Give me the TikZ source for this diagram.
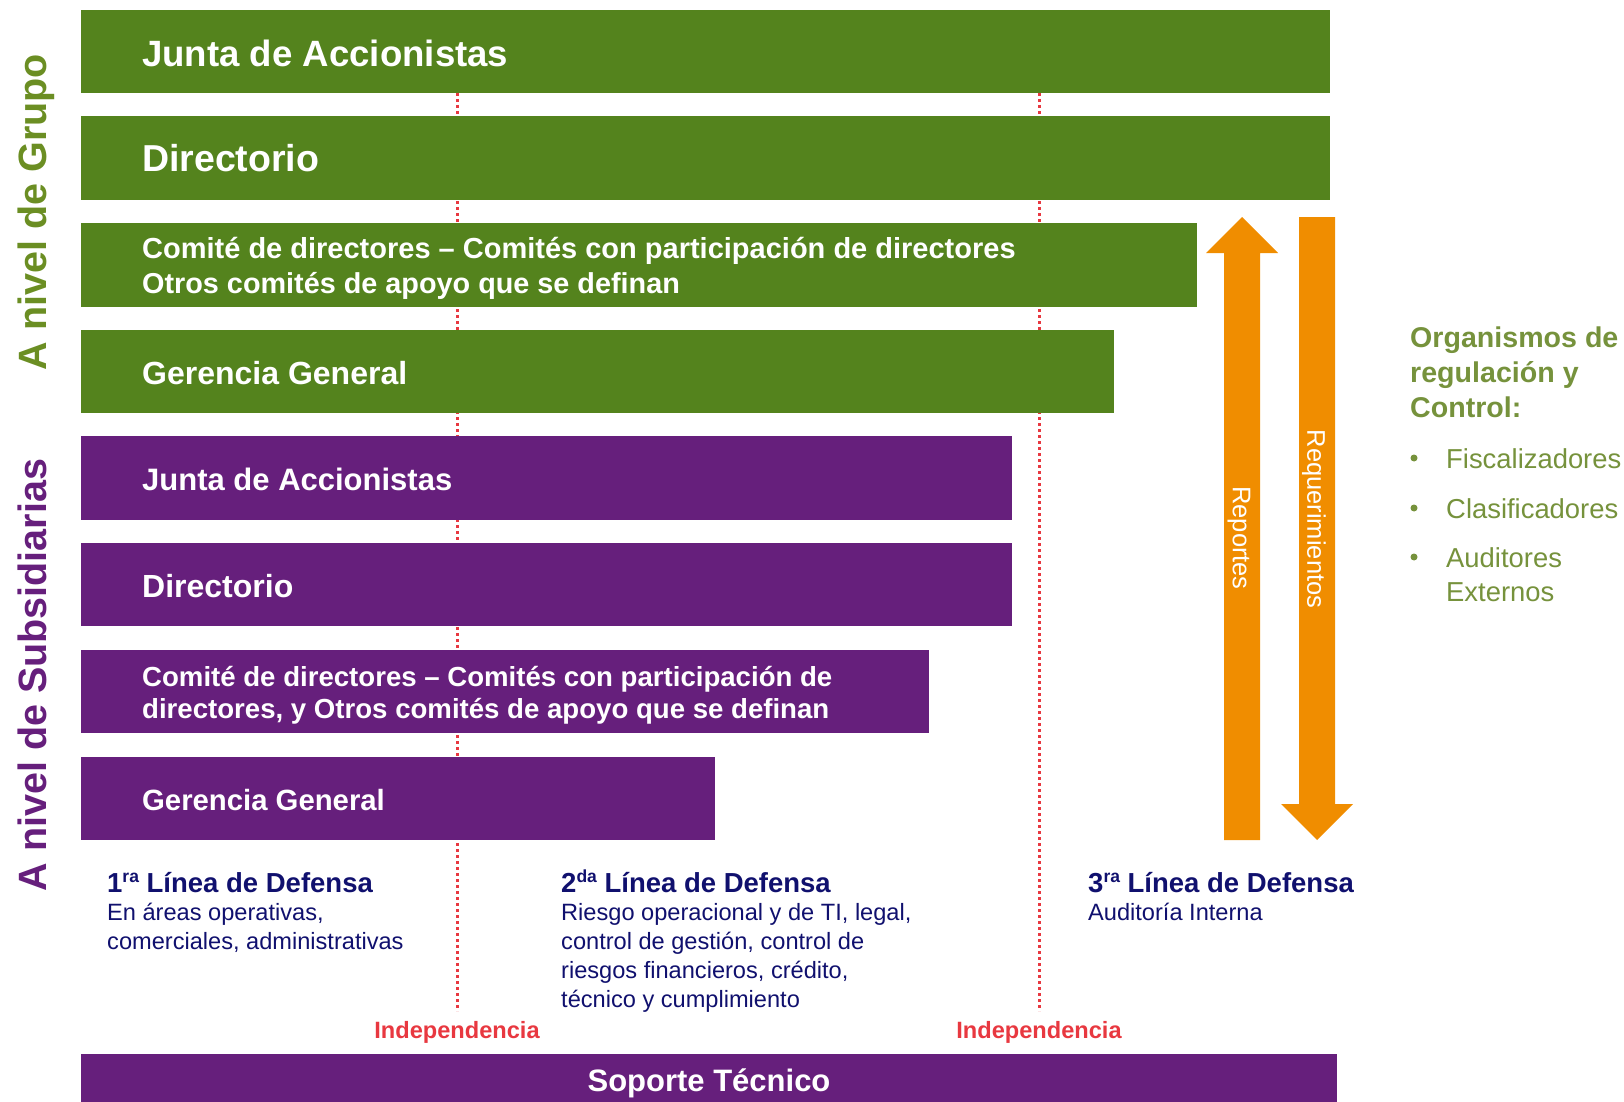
\documentclass[tikz,border=0pt]{standalone}
\usepackage{fontspec}
\setmainfont{Liberation Sans}
\definecolor{gbar}{RGB}{84,131,29}
\definecolor{pbar}{RGB}{102,31,124}
\definecolor{obar}{RGB}{240,141,0}
\definecolor{redl}{RGB}{232,56,64}
\definecolor{navy}{RGB}{16,16,110}
\definecolor{olive}{RGB}{118,146,60}
\definecolor{glab}{RGB}{107,142,35}
\newcommand{\fs}[1]{\fontsize{#1}{#1}\selectfont}
\newcommand{\supx}[1]{\raisebox{0.36em}{\fontsize{17.5}{17.5}\selectfont #1}}
\tikzset{
  barbox/.style={rectangle, inner sep=0pt, outer sep=0pt, anchor=north west, minimum height=#1},
  gbox/.style={barbox=#1, fill=gbar},
  pbox/.style={barbox=#1, fill=pbar},
  bartxt/.style={anchor=base west, text=white, inner sep=0pt},
  dotline/.style={draw=redl, line width=3pt, dash pattern=on 3pt off 3pt},
  navyt/.style={anchor=base west, text=navy, inner sep=0pt},
  olt/.style={anchor=base west, text=olive, inner sep=0pt},
  indep/.style={anchor=base, text=redl, inner sep=0pt, font=\bfseries\fs{23.6}},
}
\begin{document}
\begin{tikzpicture}[x=1pt,y=-1pt]
\useasboundingbox (0,0) rectangle (1624,1102);
% dotted independence lines (behind bars)
\coordinate (d1t) at (457,93);
\coordinate (d1b) at (457,1011);
\coordinate (d2t) at (1039,93);
\coordinate (d2b) at (1039,1011);
\draw[dotline] (d1t) -- (d1b);
\draw[dotline] (d2t) -- (d2b);
% group bars
\node[gbox=83pt, minimum width=1249pt] (g1) at (81,10) {};
\node[gbox=84pt, minimum width=1249pt] (g2) at (81,116) {};
\node[gbox=84pt, minimum width=1116pt] (g3) at (81,223) {};
\node[gbox=83pt, minimum width=1033pt] (g4) at (81,330) {};
% subsidiary bars
\node[pbox=84pt, minimum width=931pt] (p1) at (81,436) {};
\node[pbox=83pt, minimum width=931pt] (p2) at (81,543) {};
\node[pbox=83pt, minimum width=848pt] (p3) at (81,650) {};
\node[pbox=83pt, minimum width=634pt] (p4) at (81,757) {};
\node[pbox=48pt, minimum width=1256pt] (sp) at (81,1054) {};
% bar texts
\node[bartxt, font=\bfseries\fs{36.6}] (tg1) at (142,67) {Junta de Accionistas};
\node[bartxt, font=\bfseries\fs{37.5}] (tg2) at (142,172) {Directorio};
\node[bartxt, font=\bfseries\fs{29}] (tg3a) at (142,258) {Comité de directores – Comités con participación de directores};
\node[bartxt, font=\bfseries\fs{28.8}] (tg3b) at (142,293) {Otros comités de apoyo que se definan};
\node[bartxt, font=\bfseries\fs{32}] (tg4) at (142,384) {Gerencia General};
\node[bartxt, font=\bfseries\fs{31}] (tp1) at (142,490) {Junta de Accionistas};
\node[bartxt, font=\bfseries\fs{32}] (tp2) at (142,597) {Directorio};
\node[bartxt, font=\bfseries\fs{27.6}] (tp3a) at (142,686) {Comité de directores – Comités con participación de};
\node[bartxt, font=\bfseries\fs{27.6}] (tp3b) at (142,718) {directores, y Otros comités de apoyo que se definan};
\node[bartxt, font=\bfseries\fs{29.3}] (tp4) at (142,810) {Gerencia General};
\node[anchor=base, text=white, inner sep=0pt, font=\bfseries\fs{31}] (tsp) at (709,1091) {Soporte Técnico};
% side labels
\node[rotate=90, anchor=base, inner sep=0pt, text=glab, font=\bfseries\fs{39.5}] (lg) at (46,212) {A nivel de Grupo};
\node[rotate=90, anchor=base, inner sep=0pt, text=pbar, font=\bfseries\fs{39.5}] (lp) at (46,675) {A nivel de Subsidiarias};
% orange arrows
\fill[obar] (1224,840) -- (1224,253) -- (1206,253) -- (1242,217) -- (1278,253) -- (1260,253) -- (1260,840) -- cycle;
\fill[obar] (1299,217) -- (1299,804) -- (1281,804) -- (1317,840) -- (1353,804) -- (1335,804) -- (1335,217) -- cycle;
\node[rotate=-90, text=white, inner sep=0pt, font=\fs{25.5}] (rep) at (1239,538) {Reportes};
\node[rotate=-90, text=white, inner sep=0pt, font=\fs{25.5}] (req) at (1314,519) {Requerimientos};
% right panel
\node[olt, font=\bfseries\fs{28.6}] (o1) at (1410,347) {Organismos de};
\node[olt, font=\bfseries\fs{28.6}] (o2) at (1410,382) {regulación y};
\node[olt, font=\bfseries\fs{28.6}] (o3) at (1410,417) {Control:};
\fill[olive] (1414,458) circle (3.5);
\fill[olive] (1414,508) circle (3.5);
\fill[olive] (1414,557) circle (3.5);
\node[olt, font=\fs{27.4}] (b1) at (1446,468) {Fiscalizadores};
\node[olt, font=\fs{27.4}] (b2) at (1446,518) {Clasificadores};
\node[olt, font=\fs{27.4}] (b3) at (1446,567) {Auditores};
\node[olt, font=\fs{27.4}] (b4) at (1446,601) {Externos};
% defense lines
\node[navyt, font=\bfseries\fs{27.5}] (l1) at (107,892) {1\supx{ra} Línea de Defensa};
\node[navyt, font=\fs{23.6}] (l1a) at (107,920) {En áreas operativas,};
\node[navyt, font=\fs{23.6}] (l1b) at (107,949) {comerciales, administrativas};
\node[navyt, font=\bfseries\fs{27.5}] (l2) at (561,892) {2\supx{da} Línea de Defensa};
\node[navyt, font=\fs{23.6}] (l2a) at (561,920) {Riesgo operacional y de TI, legal,};
\node[navyt, font=\fs{23.6}] (l2b) at (561,949) {control de gestión, control de};
\node[navyt, font=\fs{23.6}] (l2c) at (561,978) {riesgos financieros, crédito,};
\node[navyt, font=\fs{23.6}] (l2d) at (561,1007) {técnico y cumplimiento};
\node[navyt, font=\bfseries\fs{27.5}] (l3) at (1088,892) {3\supx{ra} Línea de Defensa};
\node[navyt, font=\fs{23.6}] (l3a) at (1088,920) {Auditoría Interna};
% independence labels
\node[indep] (i1) at (457,1038) {Independencia};
\node[indep] (i2) at (1039,1038) {Independencia};
\end{tikzpicture}
\end{document}
